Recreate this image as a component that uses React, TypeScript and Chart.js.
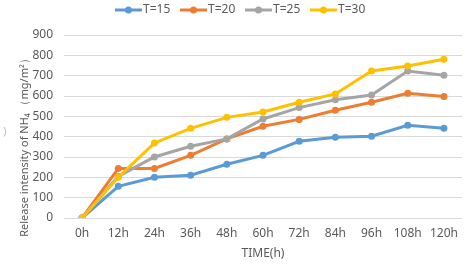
import React, { useEffect, useRef } from "react";
import { Chart, registerables } from "chart.js";

Chart.register(...registerables);

const categories = ["0h", "12h", "24h", "36h", "48h", "60h", "72h", "84h", "96h", "108h", "120h"];
const seriesNames = ["T=15", "T=20", "T=25", "T=30"];
const t15 = [0, 156, 200, 210, 264, 308, 377, 397, 402, 456, 441];
const t20 = [0, 244, 244, 308, 389, 451, 485, 530, 569, 613, 597];
const t25 = [0, 205, 300, 353, 389, 487, 543, 582, 605, 723, 702];
const t30 = [0, 200, 369, 441, 495, 521, 569, 610, 723, 748, 781];
const colors = ["#5B9BD5", "#ED7D31", "#A5A5A5", "#FFC000"];
const yTitle = "Release intensity of NH\u2084 \uFF08mg/m\u00B2\uFF09";
const xTitle = "TIME(h)";

const FONT = "'Noto Sans', sans-serif";
const TEXT = "#595959";

const overlay = {
  id: "overlay",
  afterDraw(chart: any) {
    const ctx = chart.ctx;
    const area = chart.chartArea;
    ctx.save();
    const startX = 115;
    const step = 65;
    const ly = 10;
    ctx.font = `12px ${FONT}`;
    ctx.textBaseline = "middle";
    ctx.textAlign = "left";
    seriesNames.forEach((name, i) => {
      const x = startX + i * step;
      ctx.strokeStyle = colors[i];
      ctx.lineWidth = 3;
      ctx.beginPath();
      ctx.moveTo(x, ly);
      ctx.lineTo(x + 27, ly);
      ctx.stroke();
      ctx.fillStyle = colors[i];
      ctx.beginPath();
      ctx.arc(x + 13.5, ly, 3.5, 0, Math.PI * 2);
      ctx.fill();
      ctx.fillStyle = TEXT;
      ctx.fillText(name, x + 28, ly);
    });
    ctx.textAlign = "center";
    ctx.fillText(xTitle, (area.left + area.right) / 2, 254);
    ctx.font = `11px ${FONT}`;
    ctx.translate(25, 145);
    ctx.rotate(-Math.PI / 2);
    ctx.fillText(yTitle, 0, 0);
    ctx.restore();
    ctx.save();
    ctx.fillStyle = "#bfbfbf";
    ctx.font = `11px ${FONT}`;
    ctx.textAlign = "center";
    ctx.textBaseline = "middle";
    ctx.fillText(")", 5, 132);
    ctx.restore();
  },
};

export default function App() {
  const ref = useRef<HTMLCanvasElement>(null);
  useEffect(() => {
    document.body.style.margin = "0";
    const data = [t15, t20, t25, t30];
    const chart = new Chart(ref.current!, {
      type: "line",
      data: {
        labels: categories,
        datasets: seriesNames.map((name, i) => ({
          label: name,
          data: data[i],
          borderColor: colors[i],
          backgroundColor: colors[i],
          borderWidth: 3,
          pointRadius: 3.5,
          pointHoverRadius: 3.5,
          pointBorderWidth: 0,
          tension: 0,
          order: 3 - i,
        })),
      },
      options: {
        responsive: false,
        animation: false,
        events: [],
        layout: { padding: { top: 35, right: 7, left: 0, bottom: 0 } },
        plugins: { legend: { display: false }, tooltip: { enabled: false }, title: { display: false } },
        scales: {
          x: {
            offset: true,
            grid: { display: false, drawTicks: false },
            border: { display: false },
            ticks: { color: TEXT, font: { family: FONT, size: 12 }, padding: 8, maxRotation: 0, autoSkip: false },
            afterFit(scale: any) {
              scale.height = 46;
            },
          },
          y: {
            min: 0,
            max: 900,
            ticks: { stepSize: 100, color: TEXT, font: { family: FONT, size: 12 }, padding: 11 },
            grid: { color: "#D9D9D9", lineWidth: 1, drawTicks: false },
            border: { display: false },
            afterFit(scale: any) {
              scale.width = 64;
            },
          },
        },
      },
      plugins: [overlay],
    });
    return () => chart.destroy();
  }, []);
  return <canvas ref={ref} width={469} height={264} style={{ display: "block" }} />;
}
